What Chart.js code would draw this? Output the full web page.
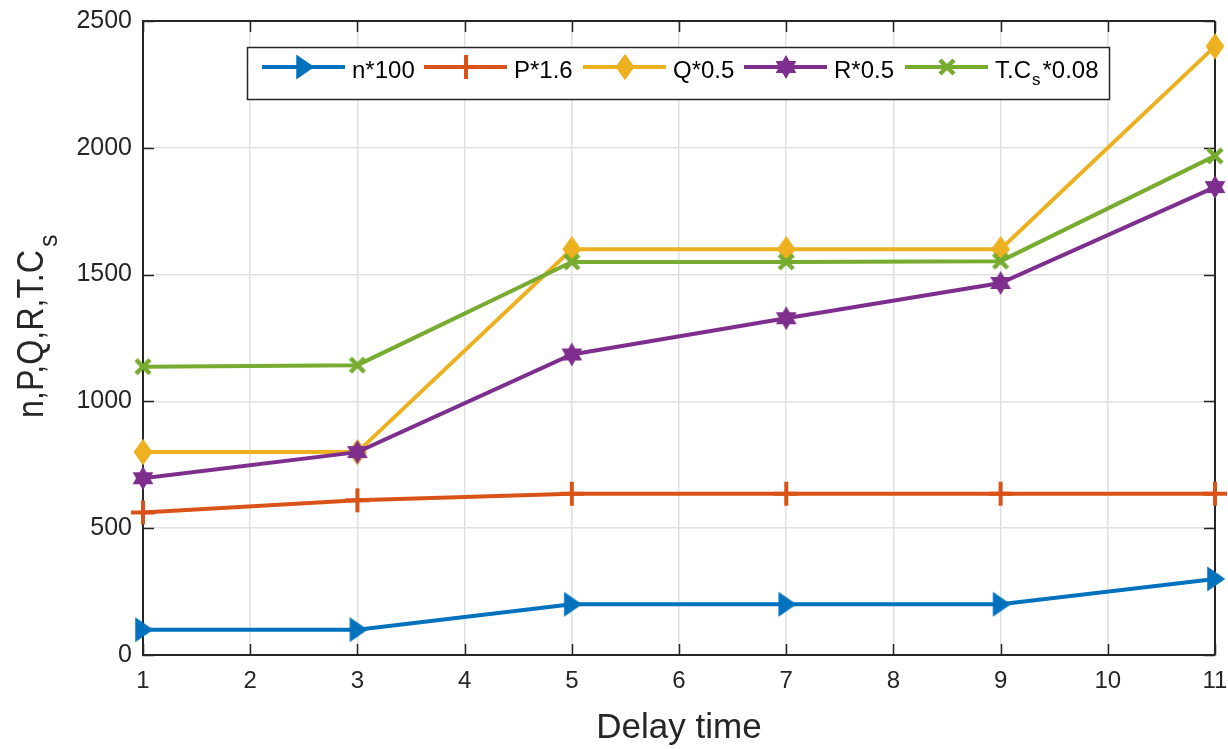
<!DOCTYPE html>
<html><head><meta charset="utf-8">
<script src="https://cdn.jsdelivr.net/npm/chart.js@4/dist/chart.umd.min.js"></script>
<style>html,body{margin:0;padding:0;background:#fff}#wrap{width:1228px;height:749px;position:relative}</style>
</head><body><div id="wrap"><canvas id="c" width="1228" height="749"></canvas></div>
<script>
// ---- data ----
const delayTime = [1, 3, 5, 7, 9, 11];
const nScaled   = [100, 100, 200, 200, 200, 300];
const pScaled   = [562, 610, 636, 636, 636, 636];
const qScaled   = [800, 800, 1600, 1600, 1600, 2400];
const rScaled   = [697, 800, 1185, 1328, 1467, 1845];
const tcsScaled = [1137, 1143, 1550, 1550, 1553, 1968];
const xTickValues = [1, 2, 3, 4, 5, 6, 7, 8, 9, 10, 11];
const yTickValues = [0, 500, 1000, 1500, 2000, 2500];
const seriesLabels = ['n*100', 'P*1.6', 'Q*0.5', 'R*0.5', 'T.C|s|*0.08'];
const xTitle = 'Delay time';
const yTitleMain = 'n,P,Q,R,T.C';
const yTitleSub = 's';

const FONT = "'Liberation Sans', Arial, Helvetica, sans-serif";
const AX = '#262626';
const colors = ['#0072BD', '#D95319', '#EDB120', '#7E2F8E', '#77AC30'];

function mk(w, h, draw) {
  const c = document.createElement('canvas');
  c.width = w; c.height = h;
  const g = c.getContext('2d');
  g.translate(w / 2, h / 2);
  draw(g);
  return c;
}
const markers = [
  mk(24, 26, g => { g.fillStyle = colors[0]; g.strokeStyle = colors[0]; g.lineWidth = 1.5; g.beginPath(); g.moveTo(-7, -11); g.lineTo(-7, 11); g.lineTo(9, 0); g.closePath(); g.fill(); g.stroke(); }),
  mk(28, 28, g => { g.strokeStyle = colors[1]; g.lineWidth = 4; g.beginPath(); g.moveTo(0, -12); g.lineTo(0, 12); g.moveTo(-12, 0); g.lineTo(12, 0); g.stroke(); }),
  mk(22, 28, g => { g.fillStyle = colors[2]; g.strokeStyle = colors[2]; g.lineWidth = 1.5; g.beginPath(); g.moveTo(0, -12); g.lineTo(8.5, 0); g.lineTo(0, 12); g.lineTo(-8.5, 0); g.closePath(); g.fill(); g.stroke(); }),
  mk(28, 28, g => { g.fillStyle = colors[3]; g.beginPath(); const R = 12, r = 12 / Math.sqrt(3);
    for (let k = 0; k < 12; k++) { const a = (-90 + k * 30) * Math.PI / 180; const rr = k % 2 ? r : R; const px = Math.cos(a) * rr, py = Math.sin(a) * rr; k ? g.lineTo(px, py) : g.moveTo(px, py); }
    g.closePath(); g.fill(); }),
  mk(24, 24, g => { g.strokeStyle = colors[4]; g.lineWidth = 4.5; g.beginPath(); g.moveTo(-7, -7); g.lineTo(7, 7); g.moveTo(-7, 7); g.lineTo(7, -7); g.stroke(); })
];

const seriesValues = [nScaled, pScaled, qScaled, rScaled, tcsScaled];
const datasets = seriesValues.map((vals, i) => ({
  label: seriesLabels[i],
  data: delayTime.map((x, j) => ({ x: x, y: vals[j] })),
  borderColor: colors[i],
  backgroundColor: colors[i],
  borderWidth: 4,
  pointStyle: markers[i],
  pointRadius: 10,
  pointHoverRadius: 10,
  tension: 0,
  clip: false,
  order: 4 - i
}));

const decor = {
  id: 'decor',
  beforeDatasetsDraw(chart) {
    const { ctx, chartArea: a, scales } = chart;
    ctx.save();
    ctx.strokeStyle = AX;
    ctx.lineWidth = 2;
    ctx.beginPath();
    ctx.moveTo(a.left, a.top); ctx.lineTo(a.right, a.top);
    ctx.moveTo(a.right, a.top); ctx.lineTo(a.right, a.bottom);
    ctx.stroke();
    ctx.lineWidth = 1.5;
    ctx.beginPath();
    const TL = 11;
    xTickValues.forEach(v => {
      const px = Math.round(scales.x.getPixelForValue(v)) + 0.5;
      ctx.moveTo(px, a.bottom); ctx.lineTo(px, a.bottom - TL);
      ctx.moveTo(px, a.top); ctx.lineTo(px, a.top + TL);
    });
    yTickValues.forEach(v => {
      const py = Math.round(scales.y.getPixelForValue(v)) + 0.5;
      ctx.moveTo(a.left, py); ctx.lineTo(a.left + TL, py);
      ctx.moveTo(a.right, py); ctx.lineTo(a.right - TL, py);
    });
    ctx.stroke();
    ctx.restore();
  },
  afterDraw(chart) {
    const { ctx, chartArea: a } = chart;
    ctx.save();
    // x title
    ctx.fillStyle = AX;
    ctx.font = '35px ' + FONT;
    ctx.textAlign = 'center';
    ctx.textBaseline = 'alphabetic';
    ctx.fillText(xTitle, (a.left + a.right) / 2, 738);
    // y title
    ctx.save();
    ctx.translate(43, 418);
    ctx.rotate(-Math.PI / 2);
    ctx.textAlign = 'left';
    ctx.font = '36px ' + FONT;
    const w = ctx.measureText(yTitleMain).width;
    const target = 168;
    ctx.save();
    ctx.scale(target / w, 1);
    ctx.fillText(yTitleMain, 0, 0);
    ctx.restore();
    ctx.font = '25px ' + FONT;
    ctx.fillText(yTitleSub, target + 3, 14);
    ctx.restore();

    // legend
    const box = { l: 247, t: 47, r: 1110, b: 100 };
    ctx.fillStyle = '#ffffff';
    ctx.fillRect(box.l, box.t, box.r - box.l, box.b - box.t);
    ctx.strokeStyle = AX;
    ctx.lineWidth = 1.5;
    ctx.strokeRect(box.l + 0.5, box.t + 0.5, box.r - box.l - 1, box.b - box.t - 1);
    const starts = [262, 424, 583, 744, 905];
    const ly = 67;
    seriesLabels.forEach((lab, i) => {
      const x0 = starts[i];
      ctx.strokeStyle = colors[i];
      ctx.lineWidth = 4;
      ctx.beginPath(); ctx.moveTo(x0, ly); ctx.lineTo(x0 + 83, ly); ctx.stroke();
      const m = markers[i];
      ctx.drawImage(m, x0 + 42 - m.width / 2, ly - m.height / 2);
      ctx.fillStyle = '#000';
      ctx.textAlign = 'left';
      let tx = x0 + 90;
      const parts = lab.split('|');
      parts.forEach((p, k) => {
        if (k % 2 === 1) {
          ctx.font = '17px ' + FONT;
          ctx.fillText(p, tx + 1, 85);
          tx += ctx.measureText(p).width + 3;
        } else {
          ctx.font = '24px ' + FONT;
          ctx.fillText(p, tx, 78);
          tx += ctx.measureText(p).width;
        }
      });
    });
    ctx.restore();
  }
};

new Chart(document.getElementById('c'), {
  type: 'line',
  data: { datasets: datasets },
  options: {
    responsive: false,
    animation: false,
    devicePixelRatio: 1,
    layout: { autoPadding: false, padding: { left: 0, top: 21, right: 13, bottom: 0 } },
    plugins: { legend: { display: false }, tooltip: { enabled: false } },
    scales: {
      x: {
        type: 'linear', min: 1, max: 11,
        ticks: { stepSize: 1, autoSkip: false, maxRotation: 0, padding: 12, color: AX, font: { family: FONT, size: 24 }, callback: v => String(v) },
        grid: { color: '#e0e0e0', lineWidth: 1.5, drawTicks: false },
        border: { display: true, color: AX, width: 2 },
        afterFit: s => { s.height = 94; s.paddingLeft = 0; s.paddingRight = 0; }
      },
      y: {
        type: 'linear', min: 0, max: 2500,
        ticks: { stepSize: 500, padding: 11, color: AX, font: { family: FONT, size: 25 }, callback: v => String(v) },
        grid: { color: '#e0e0e0', lineWidth: 1.5, drawTicks: false },
        border: { display: true, color: AX, width: 2 },
        afterFit: s => { s.width = 143; s.paddingTop = 0; s.paddingBottom = 0; }
      }
    }
  },
  plugins: [decor]
});
</script>
</body></html>
